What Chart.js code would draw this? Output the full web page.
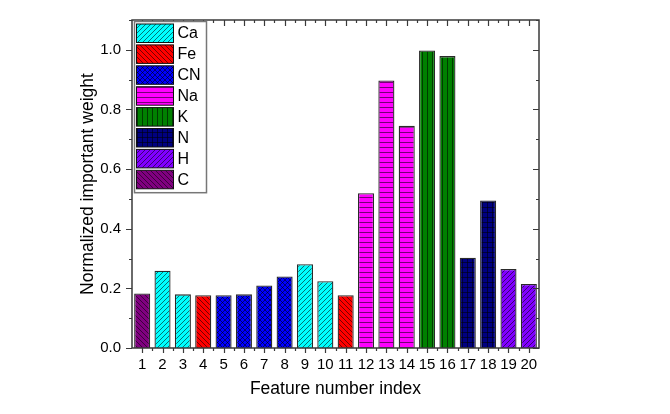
<!DOCTYPE html>
<html>
<head>
<meta charset="utf-8">
<script src="https://cdn.jsdelivr.net/npm/chart.js@4.4.1/dist/chart.umd.min.js"></script>
<style>
  html, body { margin: 0; padding: 0; background: #ffffff; }
  #wrap { width: 670px; height: 414px; position: relative; }
</style>
</head>
<body>
<div id="wrap"><canvas id="c" width="670" height="414"></canvas></div>
<script>
// ---- data ----
const categories = ['1','2','3','4','5','6','7','8','9','10','11','12','13','14','15','16','17','18','19','20'];
const weights = [0.183, 0.259, 0.180, 0.177, 0.177, 0.180, 0.210, 0.240, 0.281, 0.224, 0.177, 0.519, 0.897, 0.745, 0.998, 0.979, 0.303, 0.495, 0.265, 0.215];
const barGroups = ['C','Ca','Ca','Fe','CN','CN','CN','CN','Ca','Ca','Fe','Na','Na','Na','K','K','N','N','H','H'];
const legendNames = ['Ca','Fe','CN','Na','K','N','H','C'];
const yTickValues = [0, 0.2, 0.4, 0.6, 0.8, 1.0];

// ---- styles ----
const groupColor = { Ca:'#00FFFF', Fe:'#FF0000', CN:'#0000FF', Na:'#FF00FF', K:'#008000', N:'#000080', H:'#8000FF', C:'#800080' };
const groupHatch = { Ca:'/', Fe:'\\', CN:'x', Na:'-', K:'|', N:'+', H:'/', C:'\\' };

function makePattern(color, kind) {
  const s = 10;
  const c = document.createElement('canvas');
  c.width = s; c.height = s;
  const g = c.getContext('2d');
  g.fillStyle = color; g.fillRect(0, 0, s, s);
  g.strokeStyle = 'rgba(0,0,0,0.6)';
  g.lineWidth = 0.9;
  g.beginPath();
  if (kind === '/' || kind === 'x') {
    g.moveTo(0, 5); g.lineTo(5, 0);
    g.moveTo(0, 10); g.lineTo(10, 0);
    g.moveTo(5, 10); g.lineTo(10, 5);
  }
  if (kind === '\\' || kind === 'x') {
    g.moveTo(0, 5); g.lineTo(5, 10);
    g.moveTo(0, 0); g.lineTo(10, 10);
    g.moveTo(5, 0); g.lineTo(10, 5);
  }
  if (kind === '-' || kind === '+') {
    g.moveTo(0, 2.5); g.lineTo(10, 2.5);
    g.moveTo(0, 7.5); g.lineTo(10, 7.5);
  }
  if (kind === '|' || kind === '+') {
    g.moveTo(2.5, 0); g.lineTo(2.5, 10);
    g.moveTo(7.5, 0); g.lineTo(7.5, 10);
  }
  g.stroke();
  return g.createPattern(c, 'repeat');
}
const patterns = {};
Object.keys(groupColor).forEach(k => { patterns[k] = makePattern(groupColor[k], groupHatch[k]); });

const AXIS_COLOR = '#3a3a3a';

// frame and ticks plugin
const framePlugin = {
  id: 'frame',
  afterDatasetsDraw(chart) {
    const { ctx, chartArea: a, scales } = chart;
    const x = scales.x, y = scales.y;
    ctx.save();
    ctx.strokeStyle = AXIS_COLOR;
    ctx.lineWidth = 1.5;
    ctx.strokeRect(a.left, a.top, a.right - a.left, a.bottom - a.top);
    ctx.lineWidth = 1.2;
    ctx.beginPath();
    for (let i = 0; i <= 11; i++) {
      const v = i / 10;
      const py = Math.round(y.getPixelForValue(v)) + 0.5;
      const major = i % 2 === 0;
      const len = major ? 6 : 3;
      ctx.moveTo(a.left, py); ctx.lineTo(a.left - len, py);
      ctx.moveTo(a.right, py); ctx.lineTo(a.right - len, py);
    }
    const n = categories.length;
    for (let i = 0; i < n; i++) {
      const px = Math.round(x.getPixelForValue(i)) + 0.5;
      ctx.moveTo(px, a.bottom); ctx.lineTo(px, a.bottom + 5);
      ctx.moveTo(px, a.top); ctx.lineTo(px, a.top + 6);
      if (i < n - 1) {
        const mx = Math.round((x.getPixelForValue(i) + x.getPixelForValue(i + 1)) / 2) + 0.5;
        ctx.moveTo(mx, a.bottom); ctx.lineTo(mx, a.bottom + 3);
        ctx.moveTo(mx, a.top); ctx.lineTo(mx, a.top + 3);
      }
    }
    ctx.stroke();
    ctx.restore();
  },
  afterDraw(chart) {
    const ctx = chart.ctx;
    const a = chart.chartArea;
    ctx.save();
    const bx = a.left + 2.5, by = a.top + 1.5, bw = 72, rowH = 20.9;
    const bh = legendNames.length * rowH + 4;
    ctx.fillStyle = '#ffffff';
    ctx.fillRect(bx, by, bw, bh);
    ctx.strokeStyle = '#777777';
    ctx.lineWidth = 1.5;
    ctx.strokeRect(bx, by, bw, bh);
    ctx.font = '16px "Liberation Sans", Arial, sans-serif';
    ctx.textBaseline = 'middle';
    ctx.textAlign = 'left';
    legendNames.forEach((name, i) => {
      const sy = by + 2.5 + i * rowH;
      ctx.fillStyle = patterns[name];
      ctx.fillRect(bx + 2, sy, 37, 18.5);
      ctx.strokeStyle = '#111111';
      ctx.lineWidth = 1;
      ctx.strokeRect(bx + 2, sy, 37, 18.5);
      ctx.fillStyle = '#000000';
      ctx.fillText(name, bx + 43, sy + 10);
    });
    ctx.restore();
  }
};

Chart.defaults.font.family = '"Liberation Sans", Arial, sans-serif';
Chart.defaults.color = '#000000';

new Chart(document.getElementById('c'), {
  type: 'bar',
  data: {
    labels: categories,
    datasets: [{
      data: weights,
      backgroundColor: barGroups.map(g => patterns[g]),
      borderColor: '#2a2a2a',
      borderWidth: 1.3,
      barPercentage: 0.79,
      categoryPercentage: 1.0
    }]
  },
  options: {
    responsive: false,
    animation: false,
    devicePixelRatio: 1,
    layout: { padding: { left: 0, right: 131, top: 19, bottom: 0 } },
    plugins: { legend: { display: false }, tooltip: { enabled: false } },
    scales: {
      x: {
        type: 'category',
        offset: true,
        grid: { display: false, drawTicks: false },
        border: { display: false },
        ticks: { font: { size: 15 }, color: '#000', padding: 8, maxRotation: 0, autoSkip: false },
        title: { display: true, text: 'Feature number index', font: { size: 17.5 }, color: '#000', padding: { top: 0, bottom: 14.5 } },
        afterFit(scale) { scale.height = 66; }
      },
      y: {
        min: 0, max: 1.1,
        grid: { display: false, drawTicks: false },
        border: { display: false },
        afterBuildTicks(scale) { scale.ticks = yTickValues.map(v => ({ value: v })); },
        ticks: { font: { size: 15 }, color: '#000', padding: 11, callback: v => Number(v).toFixed(1) },
        title: { display: true, text: 'Normalized important weight', font: { size: 17.5 }, color: '#000', padding: { top: 77.5, bottom: 0 } },
        afterFit(scale) { scale.width = 132; }
      }
    }
  },
  plugins: [framePlugin]
});
</script>
</body>
</html>
